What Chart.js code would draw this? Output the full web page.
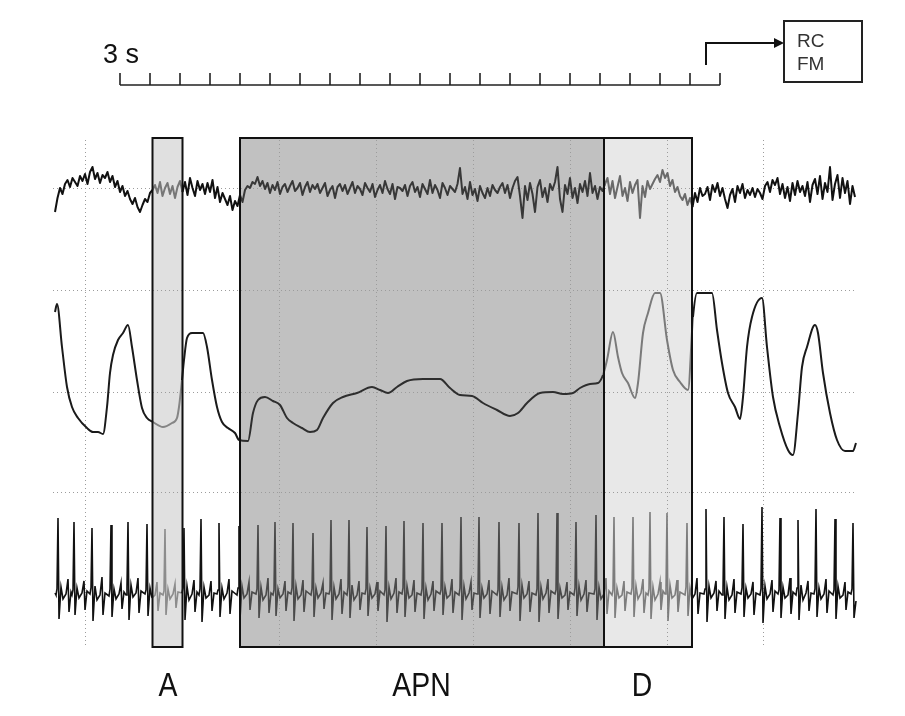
<!DOCTYPE html>
<html>
<head>
<meta charset="utf-8">
<script src="https://cdn.jsdelivr.net/npm/chart.js@4/dist/chart.umd.min.js"></script>
<style>
html,body{margin:0;padding:0;background:#fff;}
#c{display:block;}
</style>
</head>
<body>
<canvas id="c" width="905" height="716"></canvas>
<script>
// ---------------- DATA ----------------
// Shaded epochs (seconds)
const regionNames = ['A', 'APN', 'D'];
const regionStart = [9.75, 18.5, 54.9];
const regionEnd   = [12.75, 54.9, 63.7];
const labelTimes  = [11.3, 36.65, 58.7];

// Top trace (EEG-like), sampled every 0.25 s, amplitude in arbitrary units
const eegInterval = 0.25;
const eegValues = [
  -22,-8,2,-4,6,10,3,12,8,4,14,9,16,6,18,23,11,17,7,15,
  12,18,8,14,3,9,-2,4,-6,-1,-9,-14,-8,-17,-22,-15,-9,-12,-3,0,
  5,-3,8,-6,2,7,-4,4,-8,3,9,-2,8,-5,12,2,-6,9,0,6,
  -4,7,-2,10,-8,3,-12,-3,-9,-15,-6,-20,-11,-16,-5,-12,0,4,2,8,
  6,13,4,9,1,7,-3,5,0,8,-4,3,6,-2,4,9,-1,2,7,-5,
  3,8,-2,5,1,6,-3,2,7,-6,0,4,-8,3,6,-1,5,-4,2,8,
  -3,4,1,-5,7,2,-2,6,-7,0,5,-3,9,1,-4,6,-9,3,2,-1,
  5,-6,4,8,-2,3,-7,6,1,-4,10,-3,5,0,-8,7,2,-5,4,1,
  -2,6,22,-4,3,-9,8,-5,1,-11,4,-3,-8,2,-6,5,0,-3,3,7,
  -3,5,-8,2,9,13,-6,-28,4,-10,7,-4,-22,3,10,-7,2,-12,6,0,
  8,23,-9,-22,5,-4,12,-8,2,-13,6,-2,9,-6,17,-3,4,-9,3,-1,
  6,12,-4,9,-8,3,14,-6,2,-11,8,-3,5,10,-28,4,-7,9,1,6,
  11,15,8,20,12,17,4,10,-2,3,-6,-10,-4,-15,-8,-17,-3,-12,2,-6,
  -4,3,-10,5,-2,7,-6,2,-9,-18,-5,1,-12,4,-3,6,-8,0,-5,2,
  -7,1,-3,-9,4,8,-2,10,5,12,-4,6,-8,3,-11,7,-5,9,-2,4,
  -6,8,-12,5,11,-4,14,-9,7,-2,23,-10,6,15,-8,12,-3,9,-14,4,
  -7
];

// Middle trace (RC, respiratory effort)
const rcTime = [0.0,0.2,0.7,1.2,1.7,2.3,3.2,3.8,4.3,4.8,5.2,5.5,5.8,6.3,6.8,7.3,7.7,8.2,8.7,9.2,
  9.8,10.8,11.7,12.2,12.4,12.7,12.9,13.2,13.7,14.8,15.2,15.7,16.2,16.7,17.3,18.0,18.4,19.3,19.8,20.3,
  21.0,21.8,22.5,23.2,23.8,24.7,25.5,26.2,26.8,27.8,28.8,30.2,31.7,32.5,33.3,34.2,35.2,36.8,38.5,39.5,
  40.5,41.7,42.8,44.2,45.5,46.3,47.2,48.5,49.8,50.8,51.8,52.5,53.5,54.3,54.8,55.2,55.8,56.3,56.7,57.3,
  58.0,58.3,58.8,59.3,60.0,60.5,61.2,61.8,62.5,63.3,63.8,64.2,65.7,66.2,66.7,67.3,68.0,68.5,68.8,69.2,
  69.7,70.7,71.2,71.8,72.5,73.3,73.8,74.3,74.7,75.2,76.0,76.3,76.8,77.5,78.2,79.0,79.8,80.1];
const rcValue = [80,88,45,5,-15,-26,-36,-40,-40,-42,-15,19,37,52,59,67,45,12,-16,-26,
  -30,-35,-31,-26,-15,12,32,54,59,59,45,12,-15,-30,-36,-41,-48,-49,-21,-8,
  -5,-9,-13,-26,-31,-36,-40,-38,-26,-11,-5,-1,5,2,-1,5,11,13,13,4,
  -3,-4,-11,-18,-24,-21,-11,-1,0,-2,-1,4,8,9,17,32,60,35,19,9,
  -6,9,59,79,99,99,52,22,10,2,75,99,99,62,29,-1,-15,-27,-5,45,
  75,94,45,-5,-35,-58,-63,-21,25,45,67,59,19,-21,-48,-59,-59,-51];

// Bottom trace (ECG), one beat per line
const ecgTime = [0.0,
  0.1,0.2,0.3,0.4,0.6,0.8,1.1,1.3,1.4,1.6,
  1.7,1.8,1.9,2.0,2.2,2.4,2.7,2.9,3.0,3.2,
  3.5,3.6,3.7,3.8,4.0,4.2,4.5,4.7,4.8,5.0,
  5.4,5.5,5.6,5.7,5.9,6.1,6.4,6.6,6.7,6.9,
  7.1,7.2,7.3,7.4,7.6,7.8,8.1,8.3,8.4,8.6,
  9.0,9.1,9.2,9.3,9.5,9.7,10.0,10.2,10.3,10.5,
  10.8,10.9,11.0,11.1,11.3,11.5,11.8,12.0,12.1,12.3,
  12.7,12.8,12.9,13.0,13.2,13.4,13.7,13.9,14.0,14.2,
  14.4,14.5,14.6,14.7,14.9,15.1,15.4,15.6,15.7,15.9,
  16.2,16.3,16.4,16.5,16.7,16.9,17.2,17.4,17.5,17.7,
  18.2,18.3,18.4,18.5,18.7,18.9,19.2,19.4,19.5,19.7,
  20.1,20.2,20.3,20.4,20.6,20.8,21.1,21.3,21.4,21.6,
  21.8,21.9,22.0,22.1,22.3,22.5,22.8,23.0,23.1,23.3,
  23.6,23.7,23.8,23.9,24.1,24.3,24.6,24.8,24.9,25.1,
  25.6,25.7,25.8,25.9,26.1,26.3,26.6,26.8,26.9,27.1,
  27.4,27.5,27.6,27.7,27.9,28.1,28.4,28.6,28.7,28.9,
  29.2,29.3,29.4,29.5,29.7,29.9,30.2,30.4,30.5,30.7,
  31.0,31.1,31.2,31.3,31.5,31.7,32.0,32.2,32.3,32.5,
  32.9,33.0,33.1,33.2,33.4,33.6,33.9,34.1,34.2,34.4,
  34.7,34.8,34.9,35.0,35.2,35.4,35.7,35.9,36.0,36.2,
  36.6,36.7,36.8,36.9,37.1,37.3,37.6,37.8,37.9,38.1,
  38.5,38.6,38.7,38.8,39.0,39.2,39.5,39.7,39.8,40.0,
  40.4,40.5,40.6,40.7,40.9,41.1,41.4,41.6,41.7,41.9,
  42.2,42.3,42.4,42.5,42.7,42.9,43.2,43.4,43.5,43.7,
  44.2,44.3,44.4,44.5,44.7,44.9,45.2,45.4,45.5,45.7,
  46.2,46.3,46.4,46.5,46.7,46.9,47.2,47.4,47.5,47.7,
  48.1,48.2,48.3,48.4,48.6,48.8,49.1,49.3,49.4,49.6,
  50.0,50.1,50.2,50.3,50.5,50.7,51.0,51.2,51.3,51.5,
  51.9,52.0,52.1,52.2,52.4,52.6,52.9,53.1,53.2,53.4,
  53.9,54.0,54.1,54.2,54.4,54.6,54.9,55.1,55.2,55.4,
  55.7,55.8,55.9,56.0,56.2,56.4,56.7,56.9,57.0,57.2,
  57.6,57.7,57.8,57.9,58.1,58.3,58.6,58.8,58.9,59.1,
  59.3,59.4,59.5,59.6,59.8,60.0,60.3,60.5,60.6,60.8,
  61.0,61.1,61.2,61.3,61.5,61.7,62.0,62.2,62.3,62.5,
  63.0,63.1,63.2,63.3,63.5,63.7,64.0,64.2,64.3,64.5,
  64.9,65.0,65.1,65.2,65.4,65.6,65.9,66.1,66.2,66.4,
  66.7,66.8,66.9,67.0,67.2,67.4,67.7,67.9,68.0,68.2,
  68.6,68.7,68.8,68.9,69.1,69.3,69.6,69.8,69.9,70.1,
  70.5,70.6,70.7,70.8,71.0,71.2,71.5,71.7,71.8,72.0,
  72.3,72.4,72.5,72.6,72.8,73.0,73.3,73.5,73.6,73.8,
  74.1,74.2,74.3,74.4,74.6,74.8,75.1,75.3,75.4,75.6,
  75.9,76.0,76.1,76.2,76.4,76.6,76.9,77.1,77.2,77.4,
  77.8,77.9,78.0,78.1,78.3,78.5,78.8,79.0,79.1,79.3,
  79.6,79.7,79.8,79.9,80.1];
const ecgValue = [2,
  0,6,77,-24,8,-4,1,16,-17,3,
  0,5,73,-20,7,-3,2,14,-15,4,
  1,7,67,-26,9,-5,0,18,-20,2,
  -1,6,70,-22,6,-4,1,12,-14,3,
  0,8,73,-25,10,-2,2,17,-18,4,
  1,5,71,-21,7,-3,0,13,-16,2,
  0,4,66,-20,6,-4,1,11,-13,3,
  2,7,67,-25,9,-5,1,15,-17,3,
  0,6,76,-27,8,-3,0,14,-16,2,
  1,5,72,-22,7,-4,2,16,-19,4,
  0,7,69,-24,9,-3,1,13,-15,3,
  1,6,70,-23,8,-5,0,17,-18,2,
  0,5,73,-21,6,-3,1,14,-16,3,
  1,7,72,-26,9,-4,0,15,-17,4,
  0,6,62,-22,7,-3,2,12,-14,2,
  1,5,75,-25,8,-4,1,16,-19,3,
  0,8,75,-23,10,-5,0,14,-15,2,
  1,6,68,-21,7,-3,1,13,-16,4,
  0,5,69,-27,8,-4,2,17,-18,3,
  1,7,74,-22,9,-3,0,15,-17,2,
  0,6,72,-24,7,-5,1,14,-16,4,
  1,5,72,-20,8,-3,0,16,-18,3,
  0,7,78,-25,9,-4,2,13,-15,2,
  1,6,78,-23,7,-3,1,15,-19,4,
  0,5,73,-22,8,-5,0,17,-16,3,
  1,8,72,-26,10,-3,1,14,-17,2,
  0,6,82,-27,8,-4,2,16,-18,4,
  1,5,82,-24,7,-3,0,13,-15,3,
  0,7,73,-21,9,-5,1,15,-17,2,
  1,6,80,-25,8,-4,1,17,-19,4,
  0,5,78,-23,7,-3,0,14,-16,3,
  1,7,78,-22,9,-4,2,16,-18,2,
  0,6,83,-24,8,-5,1,13,-15,4,
  1,5,82,-26,10,-3,0,15,-17,3,
  0,8,72,-21,7,-4,1,17,-19,2,
  1,6,86,-27,9,-3,2,14,-16,4,
  0,5,78,-24,8,-5,0,16,-18,3,
  1,7,71,-22,7,-3,1,13,-20,2,
  0,6,88,-28,9,-4,1,15,-17,4,
  1,5,77,-23,8,-3,0,17,-19,3,
  0,7,75,-25,10,-5,2,14,-16,2,
  1,6,86,-22,7,-4,1,16,-18,4,
  0,5,76,-24,9,-3,0,13,-15,3,
  1,6,72,-23,-6];

// Time-scale bar ticks (every 3 s) and paper grid
const scaleTicks = [6.5,9.5,12.5,15.5,18.5,21.5,24.5,27.5,30.5,33.5,36.5,39.5,42.5,45.5,48.5,51.5,54.5,57.5,60.5,63.5,66.5];
const gridTimes = [3.0, 12.7, 22.4, 32.1, 41.8, 51.5, 61.2, 70.8];
const gridLevelsRC = [204, 102, 0, -100];

// ---------------- STYLE / LAYOUT ----------------
const STYLE = {
  fills: {A: '#e0e0e0', APN: '#c1c1c1', D: '#e8e8e8'},
  eeg: {out: '#111111', A: '#777777', APN: '#383838', D: '#6a6a6a'},
  rc:  {out: '#1a1a1a', A: '#858585', APN: '#2e2e2e', D: '#7a7a7a'},
  ecg: {out: '#111111', A: '#8c8c8c', APN: '#4a4a4a', D: '#7d7d7d'},
  font: '"Liberation Sans", Arial, Helvetica, sans-serif'
};
const L = {
  boxTopEEG: 52, boxBottomECG: -52,
  gridTopEEG: 50, gridBottomECG: -53, gridFrom: -0.2, gridTo: 80.0,
  barBaseEEG: 105, barTickTopEEG: 117,
  arrowT: 65.1, arrowLowEEG: 125, arrowHighEEG: 147, arrowToT: 72.9,
  fmT0: 72.9, fmT1: 80.7, fmTopEEG: 169, fmBottomEEG: 108,
  rcTextT: 74.2, rcBaseEEG: 143, fmBaseEEG: 120,
  secT: 4.8, secBaseEEG: 127,
  labelBaseECG: -101
};

function zoneOf(t) {
  for (let i = 0; i < regionNames.length; i++) {
    if (t >= regionStart[i] && t < regionEnd[i]) return regionNames[i];
  }
  return 'out';
}
function segColor(data, palette) {
  return ctx => {
    const a = data[ctx.p0DataIndex].x, b = data[ctx.p1DataIndex].x;
    return palette[zoneOf((a + b) / 2)];
  };
}

const eegData = eegValues.map((v, i) => ({x: i * eegInterval, y: v}));
const rcData = rcTime.map((t, i) => ({x: t, y: rcValue[i]}));
const ecgData = ecgTime.map((t, i) => ({x: t, y: ecgValue[i]}));

const overlay = {
  id: 'overlay',
  beforeDatasetsDraw(chart) {
    const {ctx, scales} = chart;
    const x = scales.x, yE = scales.yEEG, yR = scales.yRC, yK = scales.yECG;
    const top = yE.getPixelForValue(L.boxTopEEG), bot = yK.getPixelForValue(L.boxBottomECG);
    ctx.save();
    regionNames.forEach((n, i) => {
      const x0 = x.getPixelForValue(regionStart[i]), x1 = x.getPixelForValue(regionEnd[i]);
      ctx.fillStyle = STYLE.fills[n];
      ctx.fillRect(x0, top, x1 - x0, bot - top);
    });
    ctx.strokeStyle = '#9c9c9c';
    ctx.lineWidth = 1;
    ctx.setLineDash([1, 3]);
    gridTimes.forEach(t => {
      const px = Math.round(x.getPixelForValue(t)) + 0.5;
      ctx.beginPath();
      ctx.moveTo(px, yE.getPixelForValue(L.gridTopEEG));
      ctx.lineTo(px, yK.getPixelForValue(L.gridBottomECG));
      ctx.stroke();
    });
    gridLevelsRC.forEach(v => {
      const py = Math.round(yR.getPixelForValue(v)) + 0.5;
      ctx.beginPath();
      ctx.moveTo(x.getPixelForValue(L.gridFrom), py);
      ctx.lineTo(x.getPixelForValue(L.gridTo), py);
      ctx.stroke();
    });
    ctx.restore();
  },
  afterDatasetsDraw(chart) {
    const {ctx, scales} = chart;
    const x = scales.x, yE = scales.yEEG, yK = scales.yECG;
    const top = yE.getPixelForValue(L.boxTopEEG), bot = yK.getPixelForValue(L.boxBottomECG);
    ctx.save();
    // box borders
    ctx.strokeStyle = '#111';
    ctx.lineWidth = 2;
    regionNames.forEach((n, i) => {
      const x0 = x.getPixelForValue(regionStart[i]), x1 = x.getPixelForValue(regionEnd[i]);
      ctx.strokeRect(x0, top, x1 - x0, bot - top);
    });
    // scale bar
    const barY = yE.getPixelForValue(L.barBaseEEG), tickY = yE.getPixelForValue(L.barTickTopEEG);
    ctx.strokeStyle = '#222';
    ctx.lineWidth = 1.6;
    ctx.beginPath();
    ctx.moveTo(x.getPixelForValue(scaleTicks[0]), barY);
    ctx.lineTo(x.getPixelForValue(scaleTicks[scaleTicks.length - 1]), barY);
    scaleTicks.forEach(t => {
      const px = x.getPixelForValue(t);
      ctx.moveTo(px, barY);
      ctx.lineTo(px, tickY);
    });
    ctx.stroke();
    // arrow
    const ax = x.getPixelForValue(L.arrowT), ay0 = yE.getPixelForValue(L.arrowLowEEG), ay1 = yE.getPixelForValue(L.arrowHighEEG);
    const tip = x.getPixelForValue(L.arrowToT);
    ctx.strokeStyle = '#111';
    ctx.lineWidth = 2;
    ctx.beginPath();
    ctx.moveTo(ax, ay0);
    ctx.lineTo(ax, ay1);
    ctx.lineTo(tip - 8, ay1);
    ctx.stroke();
    ctx.fillStyle = '#111';
    ctx.beginPath();
    ctx.moveTo(tip, ay1);
    ctx.lineTo(tip - 10, ay1 - 5);
    ctx.lineTo(tip - 10, ay1 + 5);
    ctx.closePath();
    ctx.fill();
    // RC FM box
    const bx0 = x.getPixelForValue(L.fmT0), bx1 = x.getPixelForValue(L.fmT1);
    const by0 = yE.getPixelForValue(L.fmTopEEG), by1 = yE.getPixelForValue(L.fmBottomEEG);
    ctx.fillStyle = '#fff';
    ctx.fillRect(bx0, by0, bx1 - bx0, by1 - by0);
    ctx.strokeStyle = '#222';
    ctx.lineWidth = 2;
    ctx.strokeRect(bx0, by0, bx1 - bx0, by1 - by0);
    ctx.fillStyle = '#333';
    ctx.font = '19px ' + STYLE.font;
    ctx.textAlign = 'left';
    ctx.textBaseline = 'alphabetic';
    ctx.fillText('RC', x.getPixelForValue(L.rcTextT), yE.getPixelForValue(L.rcBaseEEG));
    ctx.fillText('FM', x.getPixelForValue(L.rcTextT), yE.getPixelForValue(L.fmBaseEEG));
    // 3 s
    ctx.fillStyle = '#111';
    ctx.font = '27px ' + STYLE.font;
    ctx.fillText('3 s', x.getPixelForValue(L.secT), yE.getPixelForValue(L.secBaseEEG));
    // epoch labels
    ctx.font = '33px ' + STYLE.font;
    ctx.textAlign = 'center';
    const ly = yK.getPixelForValue(L.labelBaseECG);
    regionNames.forEach((n, i) => {
      ctx.save();
      ctx.translate(x.getPixelForValue(labelTimes[i]), ly);
      ctx.scale(0.86, 1);
      ctx.fillText(n, 0, 0);
      ctx.restore();
    });
    ctx.restore();
  }
};

new Chart(document.getElementById('c'), {
  type: 'line',
  data: {
    datasets: [
      {label: 'EEG', data: eegData, yAxisID: 'yEEG', borderColor: STYLE.eeg.out, borderWidth: 2,
       pointRadius: 0, tension: 0, borderJoinStyle: 'round', segment: {borderColor: segColor(eegData, STYLE.eeg)}},
      {label: 'RC', data: rcData, yAxisID: 'yRC', borderColor: STYLE.rc.out, borderWidth: 2,
       pointRadius: 0, cubicInterpolationMode: 'monotone', segment: {borderColor: segColor(rcData, STYLE.rc)}},
      {label: 'ECG', data: ecgData, yAxisID: 'yECG', borderColor: STYLE.ecg.out, borderWidth: 1.6,
       pointRadius: 0, tension: 0, segment: {borderColor: segColor(ecgData, STYLE.ecg)}}
    ]
  },
  options: {
    responsive: false,
    animation: false,
    devicePixelRatio: 1,
    parsing: false,
    normalized: true,
    layout: {padding: 0},
    plugins: {legend: {display: false}, tooltip: {enabled: false}},
    events: [],
    scales: {
      x: {type: 'linear', display: false, min: -5.5, max: 85},
      yEEG: {type: 'linear', display: false, min: -526, max: 190},
      yRC: {type: 'linear', display: false, min: -324, max: 392},
      yECG: {type: 'linear', display: false, min: -121, max: 595}
    }
  },
  plugins: [overlay]
});
</script>
</body>
</html>
